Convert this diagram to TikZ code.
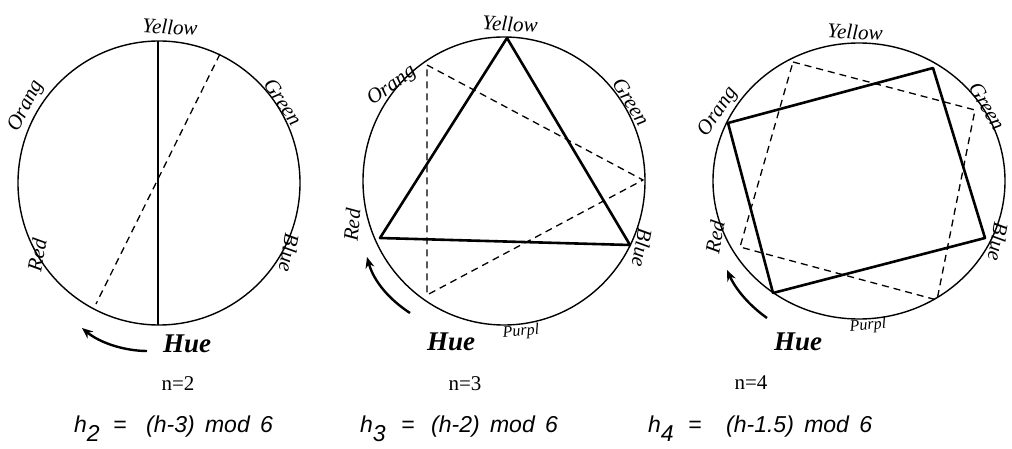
\documentclass[tikz,border=0pt]{standalone}
\usepackage{fontspec}
\setmainfont{Liberation Serif}
\newfontfamily\handfont{Liberation Serif}
\newfontfamily\formfont{Liberation Sans}
\usetikzlibrary{arrows.meta}

\begin{document}
\begin{tikzpicture}[x=1pt,y=-1pt,
  rim/.style={line width=1.4pt},
  chord/.style={line width=2.6pt,line join=round},
  hidden/.style={line width=1.3pt,dash pattern=on 7pt off 5pt},
  colour/.style={font=\handfont\itshape\fontsize{21}{21}\selectfont,inner sep=0pt},
  purple/.style={font=\handfont\itshape\fontsize{16}{16}\selectfont,inner sep=0pt},
  hue/.style={font=\handfont\itshape\bfseries\fontsize{27}{27}\selectfont,inner sep=0pt},
  turn/.style={line width=2.4pt,-{Stealth[length=11pt,width=9pt]}},
  count/.style={font=\fontsize{21}{21}\selectfont,inner sep=0pt},
  rule/.style={font=\formfont\itshape\fontsize{23}{23}\selectfont,anchor=base west,inner sep=0pt}]
\useasboundingbox (0,0) rectangle (1012,449);

% n = 2
\draw [rim] (159,183) ellipse [x radius=141, y radius=142];
\coordinate (y2) at (158,41);
\coordinate (b2) at (158,325);
\coordinate (g2) at (220,54);
\coordinate (r2) at (96,304);
\draw [chord] (y2) -- (b2);
\draw [hidden] (g2) -- (r2);
\node [colour, rotate=-3] (yellow2) at (170,27) {Yellow};
\node [colour, rotate=63] (orange2) at (26,106) {Orang};
\node [colour, rotate=-56] (green2) at (283,102) {Green};
\node [colour, rotate=-100] (blue2) at (289,253) {Blue};
\node [colour, rotate=80] (red2) at (37,255) {Red};
\node [hue] (hue2) at (187,344) {Hue};
\coordinate (s2) at (147,351);
\coordinate (e2) at (82,328);
\draw [turn] (s2) .. controls (125,351) and (100,343) .. (e2);

% n = 3
\draw [rim] (504,181) ellipse [x radius=141, y radius=144];
\coordinate (y3) at (507,38);
\coordinate (r3) at (380,238);
\coordinate (b3) at (630,245);
\coordinate (o3) at (427,65);
\coordinate (g3) at (643,180);
\coordinate (p3) at (427,295);
\draw [chord] (y3) -- (b3) -- (r3) -- cycle;
\draw [hidden] (o3) -- (g3) -- (p3) -- cycle;
\node [colour, rotate=-3] (yellow3) at (510,24) {Yellow};
\node [colour, rotate=36] (orange3) at (392,86) {Orang};
\node [colour, rotate=-58] (green3) at (631,102) {Green};
\node [colour, rotate=-100] (blue3) at (642,248) {Blue};
\node [colour, rotate=85] (red3) at (352,225) {Red};
\node [hue] (hue3) at (451,342) {Hue};
\node [purple, rotate=5] (purple3) at (521,332) {Purpl};
\coordinate (s3) at (410,313);
\coordinate (e3) at (367,257);
\draw [turn] (s3) .. controls (390,300) and (374,282) .. (e3);

% n = 4
\draw [rim] (859,181) ellipse [x radius=146, y radius=138];
\coordinate (o4) at (728,123);
\coordinate (g4) at (933,68);
\coordinate (b4) at (985,238);
\coordinate (r4) at (773,293);
\coordinate (y4) at (793,62);
\coordinate (q4) at (975,110);
\coordinate (p4) at (937,300);
\coordinate (l4) at (740,247);
\draw [chord] (o4) -- (g4) -- (b4) -- (r4) -- cycle;
\draw [hidden] (y4) -- (q4) -- (p4) -- (l4) -- cycle;
\node [colour, rotate=-3] (yellow4) at (855,32) {Yellow};
\node [colour, rotate=56] (orange4) at (718,112) {Orang};
\node [colour, rotate=-60] (green4) at (987,106) {Green};
\node [colour, rotate=-100] (blue4) at (998,242) {Blue};
\node [colour, rotate=80] (red4) at (715,237) {Red};
\node [hue] (hue4) at (798,342) {Hue};
\node [purple, rotate=5] (purple4) at (868,326) {Purpl};
\coordinate (s4) at (767,318);
\coordinate (e4) at (727,270);
\draw [turn] (s4) .. controls (750,306) and (736,290) .. (e4);

% labels
\node [count] (n2) at (178,384) {n=2};
\node [count] (n3) at (465,384) {n=3};
\node [count] (n4) at (751,383) {n=4};
\node [rule] (lhs2) at (74,432) {h\raisebox{-0.4em}{2}};
\node [rule] (eq2) at (113,432) {=};
\node [rule] (rhs2) at (146,432) {(h-3)\hspace{0.45em}mod\hspace{0.45em}6};
\node [rule] (lhs3) at (360,432) {h\raisebox{-0.4em}{3}};
\node [rule] (eq3) at (401,432) {=};
\node [rule] (rhs3) at (431,432) {(h-2)\hspace{0.45em}mod\hspace{0.45em}6};
\node [rule] (lhs4) at (648,432) {h\raisebox{-0.4em}{4}};
\node [rule] (eq4) at (688,432) {=};
\node [rule] (rhs4) at (726,432) {(h-1.5)\hspace{0.45em}mod\hspace{0.45em}6};
\end{tikzpicture}
\end{document}
